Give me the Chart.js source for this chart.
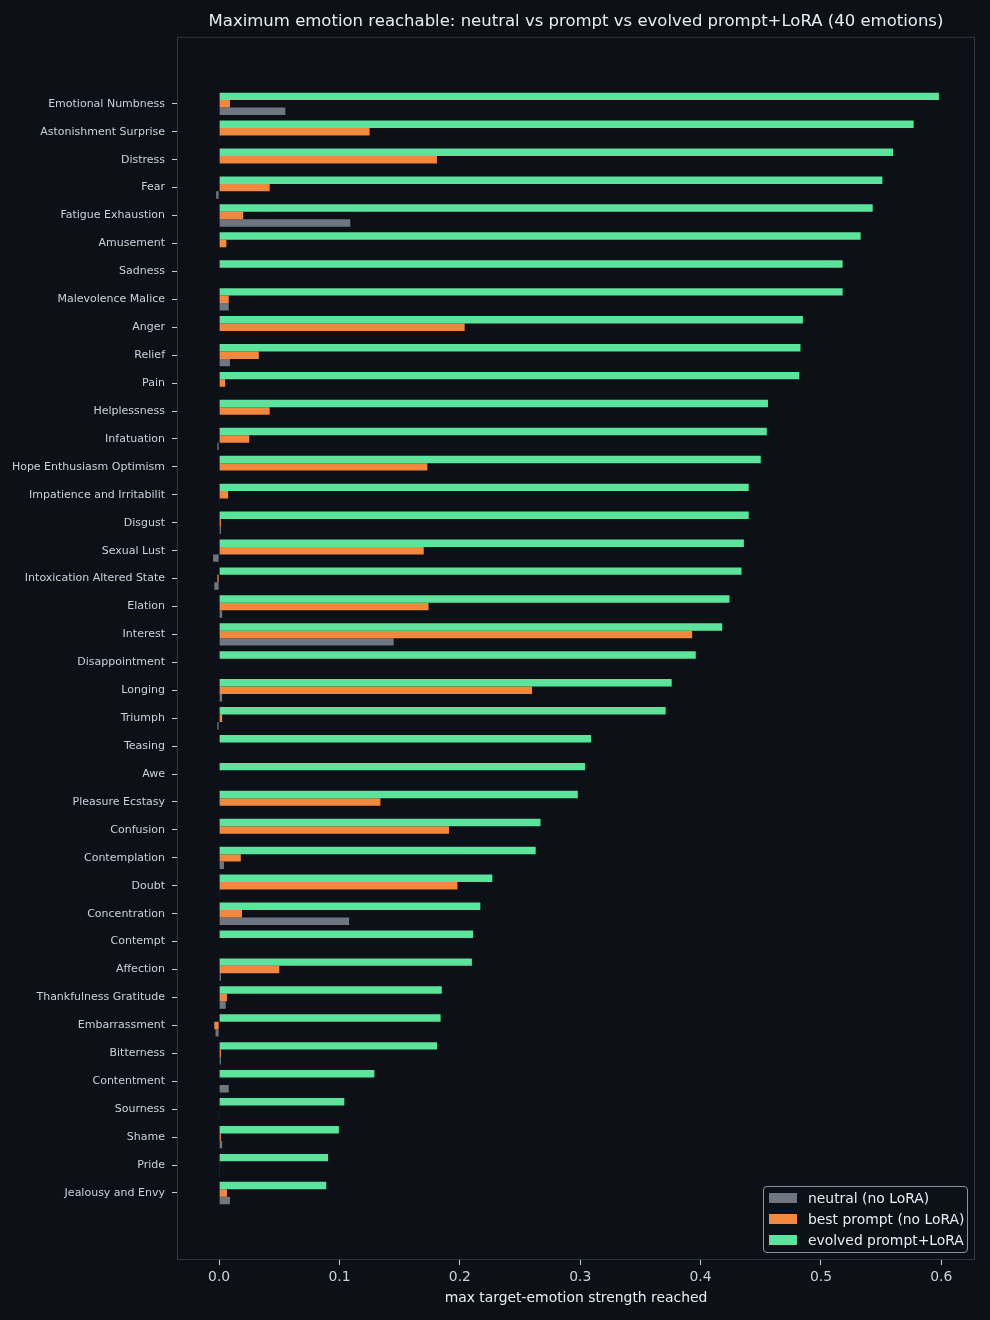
<!DOCTYPE html>
<html>
<head>
<meta charset="utf-8">
<script src="https://cdn.jsdelivr.net/npm/chart.js@4/dist/chart.umd.min.js"></script>
<style>
  html, body { margin: 0; padding: 0; background: #0d1117; }
  #wrap { position: relative; width: 990px; height: 1320px; }
  #legend {
    position: absolute; left: 763px; top: 1186px; width: 205px; height: 67px;
    box-sizing: border-box; border: 1px solid #8b949e; border-radius: 4px;
    background: rgba(13, 17, 23, 0.85); padding: 1px 0 0 5px;
    font-family: "DejaVu Sans", sans-serif; font-size: 13.9px; color: #e6edf3;
  }
  .row { display: flex; align-items: center; height: 20.7px; }
  .sw { width: 28px; height: 10px; margin-right: 11px; }
</style>
</head>
<body>
<div id="wrap">
  <canvas id="chart" width="990" height="1320"></canvas>
  <div id="legend"></div>
</div>
<script>
const emotions = [
    "Emotional Numbness", "Astonishment Surprise", "Distress", "Fear", "Fatigue Exhaustion",
    "Amusement", "Sadness", "Malevolence Malice", "Anger", "Relief",
    "Pain", "Helplessness", "Infatuation", "Hope Enthusiasm Optimism", "Impatience and Irritabilit",
    "Disgust", "Sexual Lust", "Intoxication Altered State", "Elation", "Interest",
    "Disappointment", "Longing", "Triumph", "Teasing", "Awe",
    "Pleasure Ecstasy", "Confusion", "Contemplation", "Doubt", "Concentration",
    "Contempt", "Affection", "Thankfulness Gratitude", "Embarrassment", "Bitterness",
    "Contentment", "Sourness", "Shame", "Pride", "Jealousy and Envy"
];

const neutralVals = [
    0.055, 0.0005, 0, -0.0025, 0.109,
    0, 0, 0.008, 0, 0.009,
    0, 0, -0.0015, 0, 0.0005,
    0.0015, -0.005, -0.004, 0.0025, 0.145,
    0, 0.0025, -0.0015, 0, 0,
    0, 0, 0.004, 0.0005, 0.108,
    0, 0.0015, 0.0055, -0.003, 0.0015,
    0.008, -0.0005, 0.0025, 0.0003, 0.009
];

const promptVals = [
    0.009, 0.125, 0.181, 0.042, 0.020,
    0.006, 0, 0.008, 0.204, 0.033,
    0.005, 0.042, 0.025, 0.173, 0.0075,
    0.0015, 0.170, -0.0015, 0.174, 0.393,
    0, 0.260, 0.0025, 0, 0,
    0.134, 0.191, 0.018, 0.198, 0.019,
    0, 0.050, 0.0065, -0.004, 0.0015,
    0, 0, 0.0015, 0.0005, 0.0065
];

const loraVals = [
    0.598, 0.577, 0.560, 0.551, 0.543,
    0.533, 0.518, 0.518, 0.485, 0.483,
    0.482, 0.456, 0.455, 0.450, 0.440,
    0.440, 0.436, 0.434, 0.424, 0.418,
    0.396, 0.376, 0.371, 0.309, 0.304,
    0.298, 0.267, 0.263, 0.227, 0.217,
    0.211, 0.210, 0.185, 0.184, 0.181,
    0.129, 0.104, 0.0995, 0.0905, 0.089
];

const xTicks = [0, 0.1, 0.2, 0.3, 0.4, 0.5, 0.6];

const seriesNames = ["evolved prompt+LoRA", "best prompt (no LoRA)", "neutral (no LoRA)"];
const seriesColors = ["#5ce49c", "#f0883e", "#6e7681"];

const toPoints = (vals) => vals.map((v, i) => ({ x: v, y: i }));

// chart frame on all four sides, like matplotlib spines
const framePlugin = {
    id: "frame",
    afterDraw(chart) {
        const { ctx, chartArea: a } = chart;
        ctx.save();
        ctx.strokeStyle = "#30363d";
        ctx.lineWidth = 1;
        ctx.strokeRect(a.left + 0.5, a.top + 0.5, a.right - a.left - 1, a.bottom - a.top - 1);
        ctx.restore();
    }
};

const font = "DejaVu Sans";

const chart = new Chart(document.getElementById("chart"), {
    type: "bar",
    data: {
        datasets: [loraVals, promptVals, neutralVals].map((vals, k) => ({
            label: seriesNames[k],
            data: toPoints(vals),
            backgroundColor: seriesColors[k],
            borderWidth: 0,
            categoryPercentage: 0.8,
            barPercentage: 1.0
        }))
    },
    options: {
        indexAxis: "y",
        responsive: false,
        animation: false,
        layout: { padding: { left: 0, right: 15, top: 0, bottom: 0 } },
        scales: {
            x: {
                type: "linear",
                min: -0.035,
                max: 0.628,
                afterBuildTicks: (axis) => { axis.ticks = xTicks.map(v => ({ value: v })); },
                afterFit: (scale) => { scale.height = 60; },
                grid: { drawOnChartArea: false, drawTicks: true, tickLength: 5, tickColor: "#c9d1d9" },
                border: { display: false },
                ticks: {
                    color: "#c9d1d9",
                    padding: 4,
                    font: { family: font, size: 13.9 },
                    callback: (v) => v.toFixed(1)
                },
                title: {
                    display: true,
                    text: "max target-emotion strength reached",
                    color: "#e6edf3",
                    font: { family: font, size: 13.9 },
                    padding: { top: 0, bottom: 13 }
                }
            },
            y: {
                type: "linear",
                reverse: true,
                offset: false,
                min: -2.4,
                max: 41.4,
                afterBuildTicks: (axis) => { axis.ticks = emotions.map((_, i) => ({ value: i })); },
                afterFit: (scale) => { scale.width = 177; },
                grid: { offset: false, drawOnChartArea: false, drawTicks: true, tickLength: 5, tickColor: "#c9d1d9" },
                border: { display: false },
                ticks: {
                    color: "#c9d1d9",
                    padding: 7,
                    autoSkip: false,
                    font: { family: font, size: 11 },
                    callback: (v) => emotions[v]
                }
            }
        },
        plugins: {
            legend: { display: false },
            tooltip: { enabled: false },
            title: {
                display: true,
                fullSize: false,
                text: "Maximum emotion reachable: neutral vs prompt vs evolved prompt+LoRA (40 emotions)",
                color: "#e6edf3",
                font: { family: font, size: 16.5, weight: "normal" },
                padding: { top: 12, bottom: 5 }
            }
        }
    },
    plugins: [framePlugin]
});

// legend box in the lower right, neutral first
const legendBox = document.getElementById("legend");
[...chart.data.datasets].reverse().forEach(ds => {
    const row = document.createElement("div");
    row.className = "row";
    const sw = document.createElement("span");
    sw.className = "sw";
    sw.style.background = ds.backgroundColor;
    const txt = document.createElement("span");
    txt.textContent = ds.label;
    row.appendChild(sw);
    row.appendChild(txt);
    legendBox.appendChild(row);
});
</script>
</body>
</html>
